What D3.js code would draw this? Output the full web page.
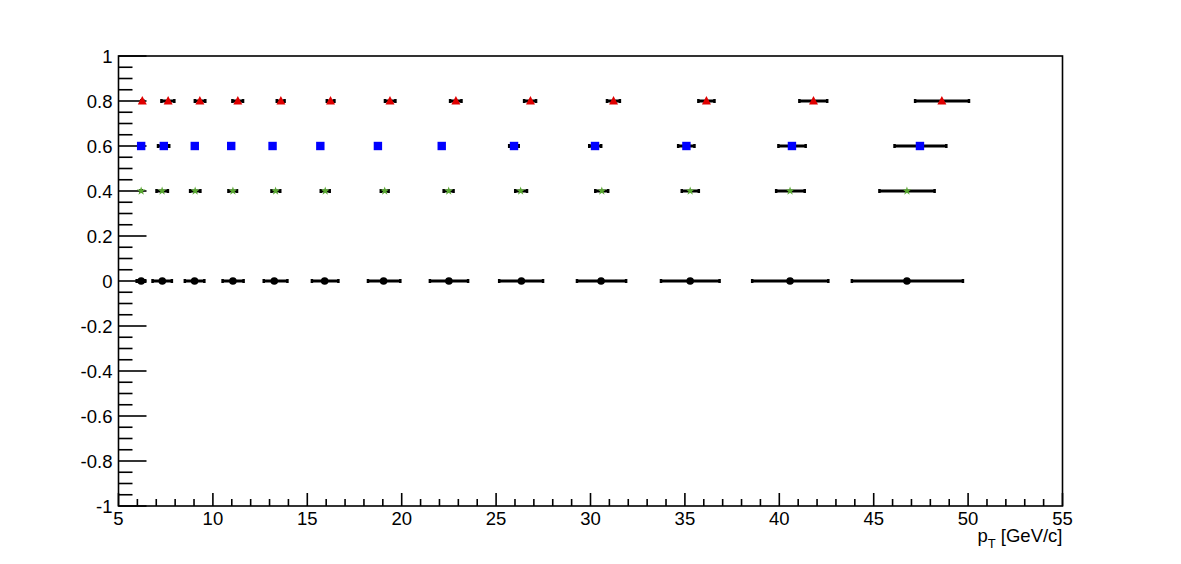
<!DOCTYPE html>
<html>
<head>
<meta charset="utf-8">
<script src="https://cdn.jsdelivr.net/npm/d3@7"></script>
<style>
  body { margin: 0; background: #fff; }
  svg { display: block; font-family: "Liberation Sans", Arial, Helvetica, sans-serif; }
</style>
</head>
<body>
<svg id="chart" width="1181" height="564"></svg>
<script>
// ---- data ----
const xTickLabels = ["5","10","15","20","25","30","35","40","45","50","55"];
const yTickLabels = ["-1","-0.8","-0.6","-0.4","-0.2","0","0.2","0.4","0.6","0.8","1"];

// black circles (y = 0)
const blackX    = [6.20, 7.32, 9.03, 11.06, 13.25, 15.92, 19.04, 22.50, 26.34, 30.56, 35.28, 40.57, 46.76];
const blackLo   = [5.95, 6.79, 8.50, 10.50, 12.68, 15.23, 18.20, 21.48, 25.15, 29.27, 33.72, 38.55, 43.83];
const blackHi   = [6.43, 7.84, 9.56, 11.64, 13.96, 16.66, 19.94, 23.53, 27.50, 31.90, 36.85, 42.61, 49.74];
const blackY    = [0,0,0,0,0,0,0,0,0,0,0,0,0];

// green stars (y = 0.4)
const greenX    = [6.20, 7.31, 9.06, 11.06, 13.32, 15.95, 19.10, 22.49, 26.30, 30.60, 35.28, 40.57, 46.76];
const greenLo   = [6.15, 7.00, 8.78, 10.81, 13.09, 15.70, 18.88, 22.21, 26.00, 30.24, 34.82, 39.82, 45.29];
const greenHi   = [6.25, 7.63, 9.35, 11.29, 13.58, 16.20, 19.32, 22.76, 26.65, 30.95, 35.75, 41.36, 48.24];
const greenY    = [0.4,0.4,0.4,0.4,0.4,0.4,0.4,0.4,0.4,0.4,0.4,0.4,0.4];

// blue squares (y = 0.6)
const blueX     = [6.20, 7.40, 9.04, 10.97, 13.16, 15.69, 18.74, 22.12, 25.95, 30.24, 35.08, 40.67, 47.45];
const blueLo    = [6.10, 7.08, 8.94, 10.87, 13.06, 15.59, 18.64, 22.02, 25.68, 29.92, 34.63, 39.94, 46.09];
const blueHi    = [6.30, 7.70, 9.14, 11.07, 13.26, 15.79, 18.84, 22.22, 26.21, 30.58, 35.52, 41.41, 48.86];
const blueY     = [0.6,0.6,0.6,0.6,0.6,0.6,0.6,0.6,0.6,0.6,0.6,0.6,0.6];

// red triangles (y = 0.8)
const redX      = [6.26, 7.63, 9.31, 11.32, 13.60, 16.23, 19.38, 22.87, 26.82, 31.22, 36.14, 41.81, 48.61];
const redLo     = [6.20, 7.26, 9.03, 11.02, 13.37, 16.02, 19.10, 22.55, 26.47, 30.86, 35.70, 41.05, 47.18];
const redHi     = [6.32, 7.97, 9.61, 11.61, 13.81, 16.45, 19.68, 23.18, 27.13, 31.57, 36.58, 42.55, 50.06];
const redY      = [0.8,0.8,0.8,0.8,0.8,0.8,0.8,0.8,0.8,0.8,0.8,0.8,0.8];

const axisTitle = "p";
const axisTitleSub = "T";
const axisTitleRest = " [GeV/c]";

// ---- layout ----
const svg = d3.select("#chart");
const fLeft = 118.5, fRight = 1062.5, fTop = 56, fBottom = 506;
const x = d3.scaleLinear().domain([5, 55]).range([fLeft, fRight]);
const y = d3.scaleLinear().domain([-1, 1]).range([fBottom, fTop]);

// frame
svg.append("rect")
  .attr("x", fLeft).attr("y", fTop)
  .attr("width", fRight - fLeft).attr("height", fBottom - fTop)
  .attr("fill", "none").attr("stroke", "#000").attr("stroke-width", 1.6);

// x ticks (inward, upward)
const xMinor = d3.range(5, 55.001, 1);
svg.append("g").selectAll("line").data(xMinor).join("line")
  .attr("x1", d => x(d)).attr("x2", d => x(d))
  .attr("y1", fBottom)
  .attr("y2", d => fBottom - (Math.abs(d % 5) < 1e-6 ? 13 : 7))
  .attr("stroke", "#000").attr("stroke-width", 1.6);

svg.append("g").selectAll("text").data(xTickLabels).join("text")
  .attr("x", d => x(+d)).attr("y", 525)
  .attr("text-anchor", "middle")
  .attr("font-size", 18.5).attr("fill", "#000")
  .text(d => d);

// y ticks (inward, rightward)
const yMinor = d3.range(-1, 1.0001, 0.05);
svg.append("g").selectAll("line").data(yMinor).join("line")
  .attr("x1", fLeft)
  .attr("x2", d => fLeft + (Math.abs(Math.round(d * 5) - d * 5) < 1e-6 ? 28 : 14))
  .attr("y1", d => y(d)).attr("y2", d => y(d))
  .attr("stroke", "#000").attr("stroke-width", 1.6);

svg.append("g").selectAll("text").data(yTickLabels).join("text")
  .attr("x", 112.5).attr("y", d => y(+d) + 6.5)
  .attr("text-anchor", "end")
  .attr("font-size", 18.5).attr("fill", "#000")
  .text(d => d);

// axis title
const t = svg.append("text")
  .attr("x", fRight).attr("y", 542)
  .attr("text-anchor", "end")
  .attr("font-size", 18.5).attr("fill", "#000");
t.append("tspan").text(axisTitle);
t.append("tspan").attr("font-size", 13).attr("dy", 6).text(axisTitleSub);
t.append("tspan").attr("dy", -6).text(axisTitleRest);

// ---- series ----
function makeSeries(xs, lo, hi, ys) {
  return xs.map((v, i) => ({ x: v, lo: lo[i], hi: hi[i], y: ys[i] }));
}

function drawErrors(data) {
  const g = svg.append("g");
  g.selectAll("line.bar").data(data).join("line")
    .attr("x1", d => x(d.lo)).attr("x2", d => x(d.hi))
    .attr("y1", d => y(d.y)).attr("y2", d => y(d.y))
    .attr("stroke", "#000").attr("stroke-width", 3);
  g.selectAll("rect.capl").data(data).join("rect")
    .attr("x", d => x(d.lo) - 1).attr("y", d => y(d.y) - 2)
    .attr("width", 2.5).attr("height", 4).attr("fill", "#000");
  g.selectAll("rect.caph").data(data).join("rect")
    .attr("x", d => x(d.hi) - 1.5).attr("y", d => y(d.y) - 2)
    .attr("width", 2.5).attr("height", 4).attr("fill", "#000");
}

const blackData = makeSeries(blackX, blackLo, blackHi, blackY);
const greenData = makeSeries(greenX, greenLo, greenHi, greenY);
const blueData  = makeSeries(blueX, blueLo, blueHi, blueY);
const redData   = makeSeries(redX, redLo, redHi, redY);

[blackData, greenData, blueData, redData].forEach(drawErrors);

// black circles
svg.append("g").selectAll("circle").data(blackData).join("circle")
  .attr("cx", d => x(d.x)).attr("cy", d => y(d.y)).attr("r", 3.8)
  .attr("fill", "#000");

// green stars
const star = d3.symbol().type(d3.symbolStar).size(24);
svg.append("g").selectAll("path").data(greenData).join("path")
  .attr("d", star)
  .attr("transform", d => `translate(${x(d.x)},${y(d.y)})`)
  .attr("fill", "#5aa832");

// blue squares
svg.append("g").selectAll("rect").data(blueData).join("rect")
  .attr("x", d => x(d.x) - 4.2).attr("y", d => y(d.y) - 4.2)
  .attr("width", 8.4).attr("height", 8.4)
  .attr("fill", "#0000ff");

// red triangles
svg.append("g").selectAll("path").data(redData).join("path")
  .attr("d", d => {
    const cx = x(d.x), cy = y(d.y);
    return `M${cx},${cy - 5} L${cx + 4.5},${cy + 3.5} L${cx - 4.5},${cy + 3.5} Z`;
  })
  .attr("fill", "#e00000");
</script>
</body>
</html>
